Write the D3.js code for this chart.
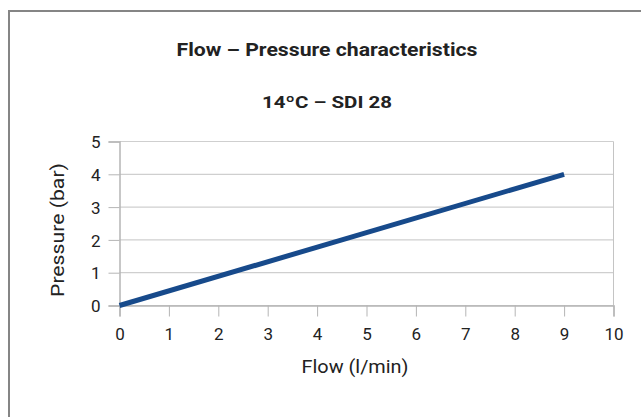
<!DOCTYPE html>
<html>
<head>
<meta charset="utf-8">
<script src="https://cdn.jsdelivr.net/npm/d3@7"></script>
<style>
  body { margin: 0; background: #fff; }
  text { font-family: Roboto, "DejaVu Sans", sans-serif; }
</style>
</head>
<body>
<svg id="chart" width="641" height="417"></svg>
<script>
// data
const flow = [0, 9];
const pressure = [0, 4];
const xTicks = [0, 1, 2, 3, 4, 5, 6, 7, 8, 9, 10];
const yTicks = [0, 1, 2, 3, 4, 5];
const title = "Flow – Pressure characteristics";
const subtitle = "14ºC – SDI 28";

const svg = d3.select("#chart"),
      margin = {top: 141.5, right: 27.5, bottom: 111.5, left: 119.5},
      width = +svg.attr("width") - margin.left - margin.right,
      height = +svg.attr("height") - margin.top - margin.bottom;

// outer frame (runs off the right and bottom edges)
svg.append("rect")
   .attr("x", 9).attr("y", 11)
   .attr("width", 700).attr("height", 500)
   .attr("fill", "none")
   .attr("stroke", "#858585")
   .attr("stroke-width", 2);

svg.append("text")
   .attr("x", 327).attr("y", 56)
   .attr("text-anchor", "middle")
   .attr("textLength", 301)
   .attr("lengthAdjust", "spacingAndGlyphs")
   .style("font-size", "18px")
   .style("font-weight", "bold")
   .style("fill", "#222")
   .text(title);

svg.append("text")
   .attr("x", 327).attr("y", 108)
   .attr("text-anchor", "middle")
   .attr("textLength", 130)
   .attr("lengthAdjust", "spacingAndGlyphs")
   .style("font-size", "17px")
   .style("font-weight", "bold")
   .style("fill", "#222")
   .text(subtitle);

const g = svg.append("g")
             .attr("transform", `translate(${margin.left},${margin.top})`);

const x = d3.scaleLinear().domain([0, 10]).range([0, width]);
const y = d3.scaleLinear().domain([0, 5]).range([height, 0]);

// horizontal grid
g.append("g")
 .selectAll("line")
 .data(yTicks)
 .enter().append("line")
   .attr("x1", 0).attr("x2", width)
   .attr("y1", d => y(d)).attr("y2", d => y(d))
   .attr("stroke", "#cfcfcf")
   .attr("stroke-width", 1.2);

// right edge of plot area
g.append("line")
 .attr("x1", width).attr("x2", width)
 .attr("y1", 0).attr("y2", height)
 .attr("stroke", "#c4c4c4");

// x axis
const xAxis = g.append("g")
 .attr("transform", `translate(0,${height})`)
 .call(d3.axisBottom(x).tickValues(xTicks).tickFormat(d3.format("d")).tickSize(11).tickPadding(11));
xAxis.select(".domain").attr("stroke", "#b5b5b5").attr("stroke-width", 1.5);
xAxis.selectAll(".tick line").attr("stroke", "#b5b5b5");
xAxis.selectAll("text")
     .style("font-size", "17px")
     .style("fill", "#222")
     .style("font-family", "Roboto, sans-serif");

// y axis
const yAxis = g.append("g")
 .call(d3.axisLeft(y).tickValues(yTicks).tickFormat(d3.format("d")).tickSize(11).tickPadding(8));
yAxis.select(".domain").attr("stroke", "#b5b5b5").attr("stroke-width", 1.5);
yAxis.selectAll(".tick line").attr("stroke", "#b5b5b5");
yAxis.selectAll("text")
     .attr("dy", "0.36em")
     .style("font-size", "17px")
     .style("fill", "#222")
     .style("font-family", "Roboto, sans-serif");

// axis titles
svg.append("text")
   .attr("x", 355).attr("y", 373)
   .attr("text-anchor", "middle")
   .attr("textLength", 107)
   .attr("lengthAdjust", "spacingAndGlyphs")
   .style("font-size", "19px")
   .style("fill", "#222")
   .text("Flow (l/min)");

svg.append("text")
   .attr("transform", "translate(64,230) rotate(-90)")
   .attr("text-anchor", "middle")
   .attr("textLength", 134)
   .attr("lengthAdjust", "spacingAndGlyphs")
   .style("font-size", "18px")
   .style("fill", "#222")
   .text("Pressure (bar)");

// the curve
const pts = flow.map((f, i) => ({f: f, p: pressure[i]}));
g.append("path")
 .datum(pts)
 .attr("fill", "none")
 .attr("stroke", "#174a8b")
 .attr("stroke-width", 5)
 .attr("d", d3.line().x(d => x(d.f)).y(d => y(d.p)));
</script>
</body>
</html>
